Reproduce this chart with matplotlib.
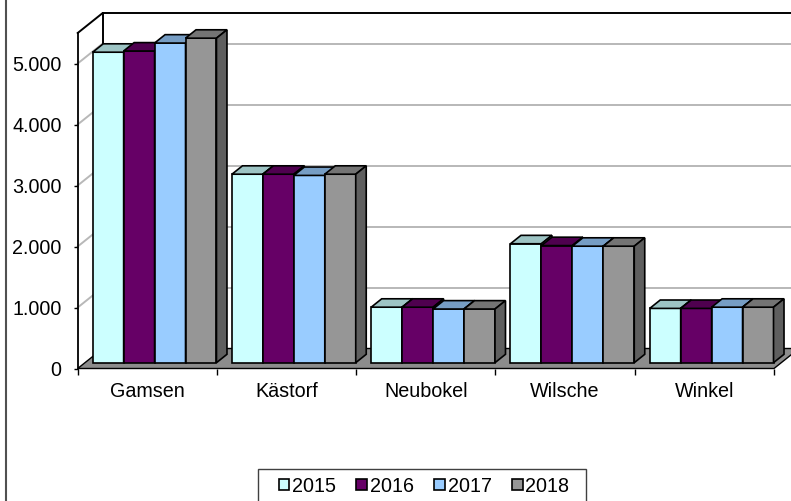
import matplotlib
matplotlib.use("Agg")
import matplotlib.pyplot as plt
from matplotlib.patches import Polygon, Rectangle, Patch
from matplotlib.lines import Line2D
from matplotlib.ticker import FuncFormatter
import numpy as np

plt.rcParams["font.family"] = ["Liberation Sans", "DejaVu Sans"]

# --- data -------------------------------------------------------------------
places = ["Gamsen", "Kästorf", "Neubokel", "Wilsche", "Winkel"]
years = ["2015", "2016", "2017", "2018"]
v2015 = [5090, 3090, 910, 1950, 890]
v2016 = [5110, 3090, 910, 1920, 890]
v2017 = [5240, 3070, 880, 1910, 910]
v2018 = [5320, 3090, 880, 1910, 910]
series = [v2015, v2016, v2017, v2018]
y_ticks = [0, 1000, 2000, 3000, 4000, 5000]
y_max = 5500

front = ["#ccffff", "#660066", "#99ccff", "#969696"]

# --- fake 3D geometry (Excel-style oblique projection) ----------------------
W, H = 791, 501
fig = plt.figure(figsize=(W / 100, H / 100), dpi=100, facecolor="white")
ax = fig.add_axes([77.7 / W, (H - 368.5) / H, 696.3 / W, 335.5 / H])
ax.set_xlim(0, len(places))
ax.set_ylim(0, y_max)

px_x = 696.3 / len(places)          # pixels per category
px_y = 335.5 / y_max                # pixels per value unit
DX = 25.0 / px_x                    # wall depth in data units
DY = 20.0 / px_y
f0, f1 = 0.29, 0.71                 # bar front / back depth fraction
bw = 1 / 4.5                        # bar width (gap width 50%)
FS = 14.2


def shade(c, k):
    r, g, b = matplotlib.colors.to_rgb(c)
    return (r * k, g * k, b * k)


grid_c = "#b8b8b8"
# back wall + side wall
ax.add_patch(Polygon([(DX, DY), (len(places) + DX, DY), (len(places) + DX, y_max + DY), (DX, y_max + DY)],
                     closed=True, fc="white", ec="none", clip_on=False, zorder=0))
for v in y_ticks[1:]:
    ax.plot([DX, len(places) + DX], [v + DY, v + DY], color=grid_c, lw=1.4, clip_on=False, zorder=1)
    ax.plot([0, DX], [v, v + DY], color=grid_c, lw=1.4, clip_on=False, zorder=1)
ax.plot([0, DX, len(places) + DX], [y_max, y_max + DY, y_max + DY], color="black", lw=1.4,
        clip_on=False, zorder=2)
ax.plot([DX, DX], [DY, y_max + DY], color="black", lw=1.4, clip_on=False, zorder=1.5)

# floor
ax.add_patch(Polygon([(0, 0), (len(places), 0), (len(places) + DX, DY), (DX, DY)],
                     closed=True, fc="#8c8c8c", ec="black", lw=1.0, clip_on=False, zorder=2))

# bars
z = 3
for i in range(len(places)):
    for j, vals in enumerate(series):
        xl = i + bw * (0.25 + j) + f0 * DX
        yb = f0 * DY
        t = vals[i] + yb
        bdx, bdy = (f1 - f0) * DX, (f1 - f0) * DY
        ax.bar(xl, vals[i], width=bw, bottom=yb, align="edge", color=front[j],
               edgecolor="black", linewidth=1.2, clip_on=False, zorder=z)
        ax.add_patch(Polygon([(xl, t), (xl + bw, t), (xl + bw + bdx, t + bdy), (xl + bdx, t + bdy)],
                             closed=True, fc=shade(front[j], 0.77), ec="black", lw=1.2,
                             clip_on=False, zorder=z))
        ax.add_patch(Polygon([(xl + bw, yb), (xl + bw + bdx, yb + bdy), (xl + bw + bdx, t + bdy), (xl + bw, t)],
                             closed=True, fc=shade(front[j], 0.63), ec="black", lw=1.2,
                             clip_on=False, zorder=z))
        z += 0.01

# axes styling
for s in ["top", "right", "bottom"]:
    ax.spines[s].set_visible(False)
ax.spines["left"].set_color("black")
ax.spines["left"].set_linewidth(1.3)
ax.spines["left"].set_zorder(10)
ax.set_yticks(y_ticks)
ax.yaxis.set_major_formatter(FuncFormatter(lambda v, p: f"{int(v):,}".replace(",", ".")))
ax.tick_params(axis="y", direction="out", length=3, width=1, pad=8.5, labelsize=FS)
ax.set_xticks(range(len(places) + 1))
ax.set_xticklabels([])
ax.tick_params(axis="x", which="major", direction="out", length=4, width=1)
ax.set_xticks(np.arange(len(places)) + 0.5, minor=True)
ax.set_xticklabels(places, minor=True)
ax.tick_params(axis="x", which="minor", length=0, pad=9.5, labelsize=FS)
ax.patch.set_visible(False)

# outer chart border (only left edge visible in the crop)
fig.add_artist(Line2D([5.5 / W, 5.5 / W], [0, 1], color="#505050", lw=1.5))

# legend
fig.add_artist(Rectangle((258 / W, -6 / H), 328 / W, (501 - 469 + 6) / H, fc="white",
                         ec="#404040", lw=1.0))
handles = [Patch(facecolor=c, edgecolor="black", linewidth=1.2) for c in front]
fig.legend(handles, years, loc="center", bbox_to_anchor=(424 / W, (H - 486) / H), ncol=4,
           frameon=False, fontsize=FS, handlelength=0.55, handleheight=0.55,
           handletextpad=0.12, columnspacing=1.05, borderpad=0)

fig.savefig("out.png", dpi=100)
